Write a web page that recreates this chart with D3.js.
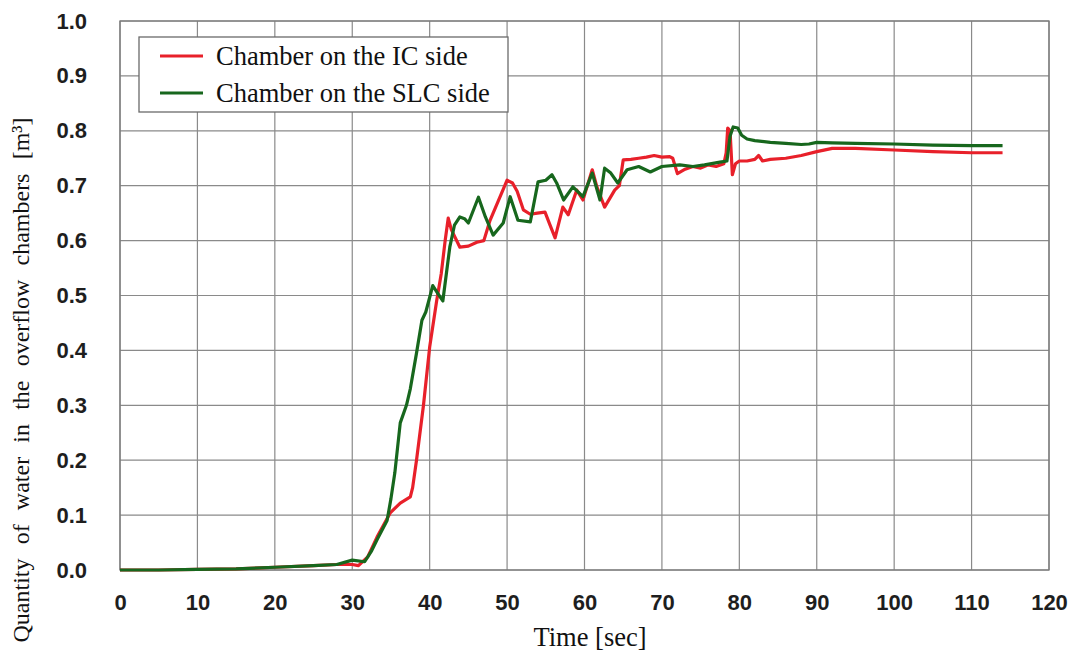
<!DOCTYPE html>
<html><head><meta charset="utf-8">
<script src="https://cdn.jsdelivr.net/npm/d3@7"></script>
<style>body{margin:0;background:#fff}svg{display:block}</style>
</head><body>
<svg id="c" width="1073" height="653"></svg>
<script>
const xTicks = [0,10,20,30,40,50,60,70,80,90,100,110,120];
const yTicks = [0,0.1,0.2,0.3,0.4,0.5,0.6,0.7,0.8,0.9,1.0];
const seriesNames = ["Chamber on the IC side","Chamber on the SLC side"];

const icTime = [0,5,10,15,20,25,28,30,30.8,32,33.2,34.9,36.2,37.5,37.8,38.3,39.2,40,40.9,41.5,42,42.4,42.8,43.9,45,46.1,47,47.8,49.1,50,50.7,51.3,52.1,53,53.9,54.9,55.5,56.2,57.2,57.9,59,59.8,61,61.6,62.6,63.9,64.5,65,66,67,68,69,70,71,71.4,72,73,74,75,76,77,78,78.3,78.5,78.8,79.1,79.5,80,81,82,82.5,83,84,86,88,90,92,95,100,105,110,114];
const icValue = [0,0,0.001,0.002,0.005,0.008,0.01,0.01,0.008,0.024,0.06,0.104,0.122,0.133,0.15,0.2,0.3,0.406,0.49,0.54,0.6,0.641,0.62,0.588,0.59,0.597,0.6,0.637,0.68,0.71,0.705,0.69,0.656,0.648,0.65,0.652,0.63,0.605,0.661,0.647,0.692,0.674,0.729,0.698,0.661,0.692,0.7,0.747,0.748,0.75,0.752,0.755,0.752,0.753,0.75,0.722,0.73,0.735,0.732,0.738,0.735,0.74,0.76,0.805,0.8,0.72,0.74,0.745,0.745,0.748,0.755,0.745,0.748,0.75,0.755,0.762,0.768,0.768,0.765,0.762,0.76,0.76];

const slcTime = [0,5,10,15,20,25,28,30,31.6,32.5,33.2,34.5,35,35.5,36.2,37,37.5,38.3,39,39.5,40.4,41,41.7,42.6,43.2,43.9,44.5,45,46.3,47.2,48.2,49.5,50.4,51.4,53,54,55,55.8,56.4,57.3,58.5,59.8,61,62,62.6,63.4,64.3,65.5,67,68.5,70,72.3,74,75.5,77.5,78.4,78.8,79.2,79.8,80.3,81,82,84,86,88,89,90,92,95,100,105,110,114];
const slcValue = [0,0,0.001,0.002,0.005,0.008,0.01,0.018,0.015,0.035,0.055,0.09,0.13,0.177,0.268,0.3,0.33,0.395,0.455,0.47,0.518,0.505,0.49,0.588,0.628,0.643,0.64,0.632,0.679,0.643,0.61,0.632,0.68,0.637,0.634,0.707,0.71,0.72,0.705,0.674,0.698,0.68,0.723,0.674,0.732,0.723,0.705,0.729,0.735,0.725,0.735,0.738,0.735,0.738,0.743,0.745,0.79,0.807,0.805,0.792,0.785,0.782,0.779,0.777,0.775,0.776,0.779,0.778,0.777,0.776,0.774,0.773,0.773];

const colors = ["#e8202a","#17671d"];

const svg = d3.select("#c");
const L=120, R=1049, T=21, B=570;
const x = d3.scaleLinear().domain([0,120]).range([L,R]);
const y = d3.scaleLinear().domain([0,1]).range([B,T]);

// grid
const g = svg.append("g");
g.selectAll("line.vx").data(xTicks).join("line")
  .attr("x1",d=>x(d)).attr("x2",d=>x(d)).attr("y1",T).attr("y2",B)
  .attr("stroke","#8a8a8a").attr("stroke-width",1.2);
g.selectAll("line.hy").data(yTicks).join("line")
  .attr("y1",d=>y(d)).attr("y2",d=>y(d)).attr("x1",L).attr("x2",R)
  .attr("stroke","#8a8a8a").attr("stroke-width",1.2);
svg.append("rect").attr("x",L).attr("y",T).attr("width",R-L).attr("height",B-T)
  .attr("fill","none").attr("stroke","#7a7a7a").attr("stroke-width",1.3);

// axes via d3 axis (labels only)
const xAxis = svg.append("g").attr("transform",`translate(0,${B})`)
  .call(d3.axisBottom(x).tickValues(xTicks).tickFormat(d3.format("d")).tickSize(0).tickPadding(24));
const yAxis = svg.append("g").attr("transform",`translate(${L},0)`)
  .call(d3.axisLeft(y).tickValues(yTicks).tickFormat(d3.format(".1f")).tickSize(0).tickPadding(33));
[xAxis,yAxis].forEach(a=>{
  a.select(".domain").remove();
  a.selectAll("text").attr("font-family","'Liberation Sans',Arial,sans-serif")
    .attr("font-size",22).attr("font-weight","bold").attr("fill","#1e1e1e");
});

// lines
const line = d3.line().x(d=>x(d[0])).y(d=>y(d[1]));
const icData = icTime.map((t,i)=>[t,icValue[i]]);
const slcData = slcTime.map((t,i)=>[t,slcValue[i]]);
svg.append("path").datum(icData).attr("d",line).attr("fill","none")
  .attr("stroke",colors[0]).attr("stroke-width",3.2).attr("stroke-linejoin","round");
svg.append("path").datum(slcData).attr("d",line).attr("fill","none")
  .attr("stroke",colors[1]).attr("stroke-width",3.2).attr("stroke-linejoin","round");

// legend
const lg = svg.append("g");
lg.append("rect").attr("x",139).attr("y",37).attr("width",369).attr("height",75)
  .attr("fill","#fff").attr("stroke","#6a6a6a").attr("stroke-width",1.3);
seriesNames.forEach((n,i)=>{
  const yy = 56 + i*37;
  lg.append("line").attr("x1",160).attr("x2",203).attr("y1",yy).attr("y2",yy)
    .attr("stroke",colors[i]).attr("stroke-width",3.2);
  lg.append("text").attr("x",216).attr("y",yy+9).text(n)
    .attr("font-family","'Liberation Serif','Times New Roman',serif").attr("font-size",26.5).attr("fill","#111");
});

// axis titles
svg.append("text").attr("x",590).attr("y",646).attr("text-anchor","middle")
  .attr("font-family","'Liberation Serif','Times New Roman',serif").attr("font-size",26.5).attr("fill","#111")
  .text("Time [sec]");
const yt = svg.append("text").attr("transform","translate(29,380) rotate(-90)").attr("text-anchor","middle")
  .attr("font-family","'Liberation Serif','Times New Roman',serif").attr("font-size",24).attr("fill","#111")
  .text("Quantity of water in the overflow chambers [m³]");
const nat = yt.node().getComputedTextLength();
yt.attr("word-spacing", Math.max(0,(525-nat)/7));
</script>
</body></html>
